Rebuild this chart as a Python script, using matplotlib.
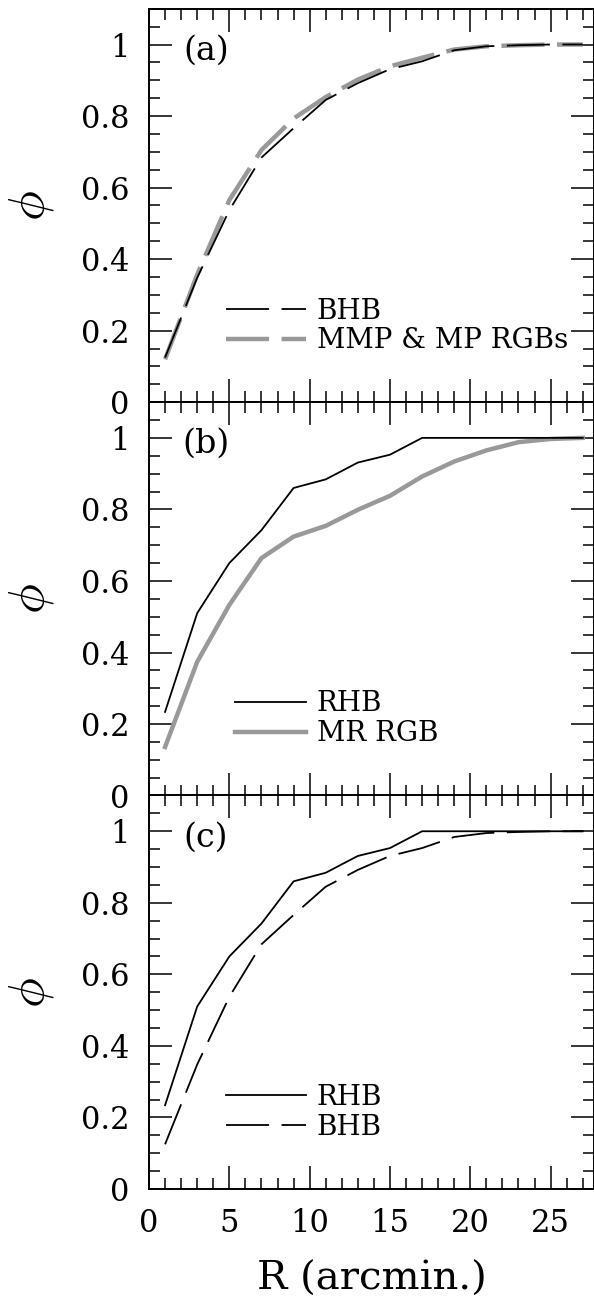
import matplotlib
matplotlib.use("Agg")
import matplotlib.pyplot as plt
from matplotlib.ticker import FixedLocator, MultipleLocator, FuncFormatter

# ---- data ----
R = [1, 3, 5, 7, 9, 11, 13, 15, 17, 19, 21, 23, 25, 27]
RHB = [0.234, 0.510, 0.650, 0.742, 0.860, 0.884, 0.931, 0.953, 1.0, 1.0, 1.0, 1.0, 1.0, 1.0]
BHB = [0.125, 0.348, 0.537, 0.684, 0.766, 0.845, 0.892, 0.931, 0.953, 0.984, 0.995, 0.998, 1.0, 1.0]
MMP_MP = [0.120, 0.357, 0.565, 0.705, 0.793, 0.853, 0.902, 0.939, 0.963, 0.986, 0.995, 0.998, 1.0, 1.0]
MR_RGB = [0.136, 0.374, 0.533, 0.664, 0.724, 0.754, 0.799, 0.838, 0.892, 0.934, 0.965, 0.988, 0.997, 1.0]

panel_labels = ["(a)", "(b)", "(c)"]
x_ticks = [0, 5, 10, 15, 20, 25]
y_ticks = [0, 0.2, 0.4, 0.6, 0.8, 1.0]

plt.rcParams['font.family'] = ['DejaVu Serif']
plt.rcParams['lines.scale_dashes'] = False

GRAY = '#999999'
DASH = (31, 9)
FS = 20

fig = plt.figure(figsize=(5.94, 13.03), dpi=100)
left = 149 / 594
width = 1 - left
h = 0.302
bottoms = [0.6913, 0.3894, 0.0875]
axes = [fig.add_axes([left, b, width, h]) for b in bottoms]

def yfmt(v, pos):
    if abs(v) < 1e-9:
        return '0'
    if abs(v - 1) < 1e-9:
        return '1'
    return f'{v:.1f}'

for i, ax in enumerate(axes):
    ax.set_xlim(0, 27.7)
    ax.set_ylim(0, 1.1)
    ax.xaxis.set_major_locator(FixedLocator(x_ticks))
    ax.xaxis.set_minor_locator(MultipleLocator(1))
    ax.yaxis.set_major_locator(FixedLocator(y_ticks))
    ax.yaxis.set_minor_locator(MultipleLocator(0.05))
    ax.yaxis.set_major_formatter(FuncFormatter(yfmt))
    ax.tick_params(which='both', direction='in', top=True, right=True, width=1.1)
    ax.tick_params(which='major', length=16.5, pad=14, labelsize=22)
    ax.tick_params(which='minor', length=8)
    for s in ax.spines.values():
        s.set_linewidth(1.4)
    if i < 2:
        ax.tick_params(labelbottom=False)
    ax.set_ylabel(r'$\phi$', fontsize=36, math_fontfamily='cm')
    ax.yaxis.label.set_ha('center')
    ax.yaxis.label.set_va('center')
    ax.yaxis.set_label_coords(-0.265, 0.5)
    ax.text(0.128, 0.893, panel_labels[i], transform=ax.transAxes,
            fontsize=24, ha='center', va='center')

# panel a
ax = axes[0]
lg, = ax.plot(R, MMP_MP, color=GRAY, lw=3.2, dashes=DASH, label='MMP & MP RGBs')
lb, = ax.plot(R, BHB, color='black', lw=1.3, dashes=DASH, label='BHB')
ax.legend(handles=[lb, lg], loc='center left', bbox_to_anchor=(0.1724, 0.194),
          frameon=False, fontsize=FS, handlelength=2.88, handletextpad=0.4,
          labelspacing=0.1, borderpad=0, borderaxespad=0)

# panel b
ax = axes[1]
lg, = ax.plot(R, MR_RGB, color=GRAY, lw=3.2, label='MR RGB')
lr, = ax.plot(R, RHB, color='black', lw=1.3, label='RHB')
ax.legend(handles=[lr, lg], loc='center left', bbox_to_anchor=(0.1933, 0.195),
          frameon=False, fontsize=FS, handlelength=2.545, handletextpad=0.4,
          labelspacing=0.1, borderpad=0, borderaxespad=0)

# panel c
ax = axes[2]
lr, = ax.plot(R, RHB, color='black', lw=1.3, label='RHB')
lb, = ax.plot(R, BHB, color='black', lw=1.3, dashes=DASH, label='BHB')
ax.legend(handles=[lr, lb], loc='center left', bbox_to_anchor=(0.1724, 0.1945),
          frameon=False, fontsize=FS, handlelength=2.88, handletextpad=0.4,
          labelspacing=0.1, borderpad=0, borderaxespad=0)
ax.set_xlabel('R (arcmin.)', fontsize=29)
ax.xaxis.label.set_va('baseline')
ax.xaxis.set_label_coords(0.5, -0.257)

fig.savefig('out.png', dpi=100)
